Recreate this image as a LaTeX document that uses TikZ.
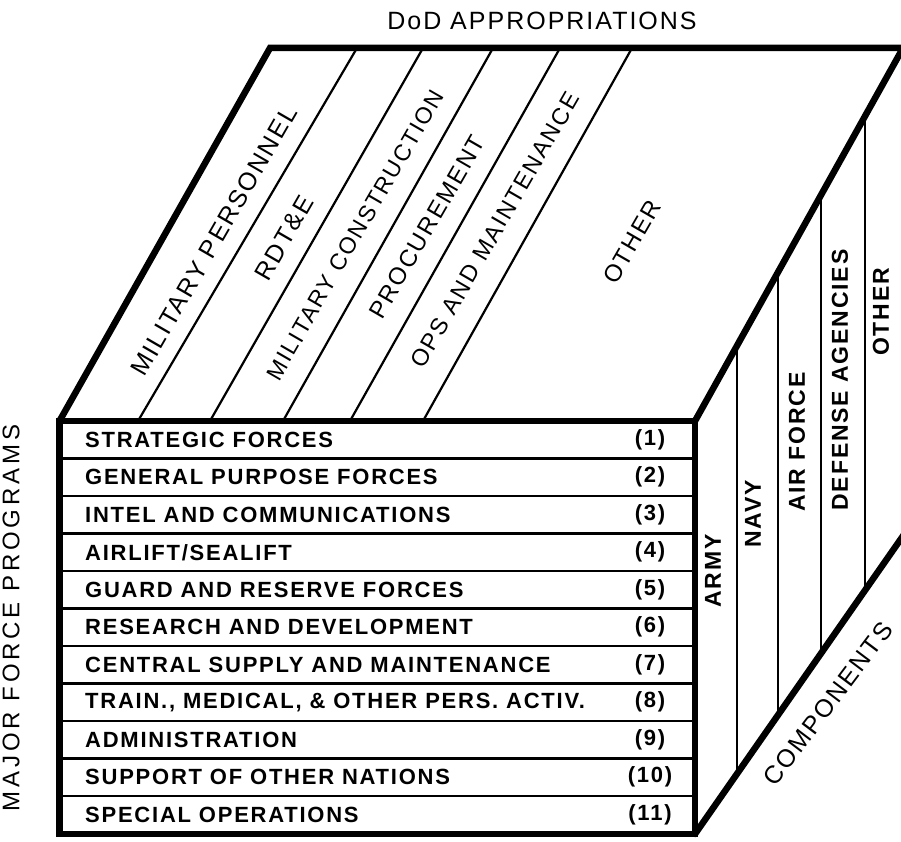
\documentclass[tikz,border=0pt]{standalone}
\usepackage{fontspec}
\setmainfont{Liberation Sans}
\newfontfamily\lblfont[LetterSpace=8]{Liberation Sans}
\newfontfamily\widefont[LetterSpace=16]{Liberation Sans}
\newcommand\myfront{\lblfont\bfseries\fontsize{22}{24}\selectfont}
\newcommand\mytop[1]{\lblfont\fontsize{#1}{#1}\selectfont}
\newcommand\myside{\lblfont\bfseries\fontsize{23}{25}\selectfont}
\newcommand\myhead{\lblfont\fontsize{25}{27}\selectfont}
\newcommand\myleft{\widefont\fontsize{24}{26}\selectfont}
\newcommand\mycomp{\lblfont\fontsize{25}{27}\selectfont}
\begin{document}
\begin{tikzpicture}[x=1pt,y=-1pt,
  edge/.style={line width=6.5pt, line join=miter, line cap=round},
  hair/.style={line width=2.2pt},
  rowtext/.style={font=\myfront, anchor=west, inner sep=0pt},
  numtext/.style={font=\myfront, inner sep=0pt},
  toptext/.style={rotate=60, inner sep=0pt},
  sidetext/.style={font=\myside, rotate=90, inner sep=0pt}]
\path[use as bounding box] (0,0) rectangle (901,842);
\clip (0,0) rectangle (901,842);
% corners
\coordinate (FTL) at (59.5,421);
\coordinate (FTR) at (695,421);
\coordinate (FBL) at (59.5,834);
\coordinate (FBR) at (695,834);
\coordinate (BTL) at (270,48);
\coordinate (BTR) at (903,48);
\coordinate (BBR) at (912,523);
% row separators
\foreach \i in {1,...,10}
  \draw[hair] (59.5,{421+37.5*\i}) -- (695,{421+37.5*\i});
% top face dividers
\draw[hair] (138,421) -- (357,48);
\draw[hair] (210,421) -- (423,48);
\draw[hair] (283,421) -- (493,48);
\draw[hair] (350,421) -- (560,48);
\draw[hair] (423,421) -- (632,48);
% right face dividers
\draw[hair] (737,345.7) -- (737,773.8);
\draw[hair] (778,272.2) -- (778,715.0);
\draw[hair] (821,195.1) -- (821,653.3);
\draw[hair] (865,116.2) -- (865,590.2);
% thick edges
\draw[edge] (FTL) rectangle (FBR);
\draw[edge] (FTL) -- (BTL) -- (BTR);
\draw[edge] (FTR) -- (BTR);
\draw[edge] (FBR) -- (BBR);
% front rows
\foreach \i/\t in {1/{STRATEGIC FORCES}, 2/{GENERAL PURPOSE FORCES}, 3/{INTEL AND COMMUNICATIONS},
  4/{AIRLIFT/SEALIFT}, 5/{GUARD AND RESERVE FORCES}, 6/{RESEARCH AND DEVELOPMENT},
  7/{CENTRAL SUPPLY AND MAINTENANCE}, 8/{TRAIN., MEDICAL, \& OTHER PERS. ACTIV.},
  9/{ADMINISTRATION}, 10/{SUPPORT OF OTHER NATIONS}, 11/{SPECIAL OPERATIONS}}
{
  \node[rowtext] (r\i) at (85,{421+37.5*(\i-0.5)}) {\t};
  \node[numtext] (n\i) at (650,{421+37.5*(\i-0.5)}) {(\i)};
}
% top face labels
\node[toptext, font=\mytop{25}] (tMP) at (214,241) {MILITARY PERSONNEL};
\node[toptext, font=\mytop{25}] (tRD) at (284,238) {RDT\&E};
\node[toptext, font=\mytop{23}] (tMC) at (355,235) {MILITARY CONSTRUCTION};
\node[toptext, font=\mytop{24}] (tPR) at (427,227) {PROCUREMENT};
\node[toptext, font=\mytop{23.5}] (tOM) at (495,230) {OPS AND MAINTENANCE};
\node[toptext, font=\mytop{24}] (tOT) at (632,242) {OTHER};
% right face labels
\node[sidetext] (sAR) at (713,571) {ARMY};
\node[sidetext] (sNA) at (753,514) {NAVY};
\node[sidetext] (sAF) at (797,442) {AIR FORCE};
\node[sidetext] (sDA) at (840,380) {DEFENSE AGENCIES};
\node[sidetext] (sOT) at (881,312) {OTHER};
% outer labels
\node[font=\myhead, inner sep=0pt] (head) at (542,21) {DoD APPROPRIATIONS};
\node[font=\myleft, rotate=90, inner sep=0pt] (left) at (11,618) {MAJOR FORCE PROGRAMS};
\node[font=\mycomp, rotate=53, inner sep=0pt] (comp) at (828,704) {COMPONENTS};
\end{tikzpicture}
\end{document}
